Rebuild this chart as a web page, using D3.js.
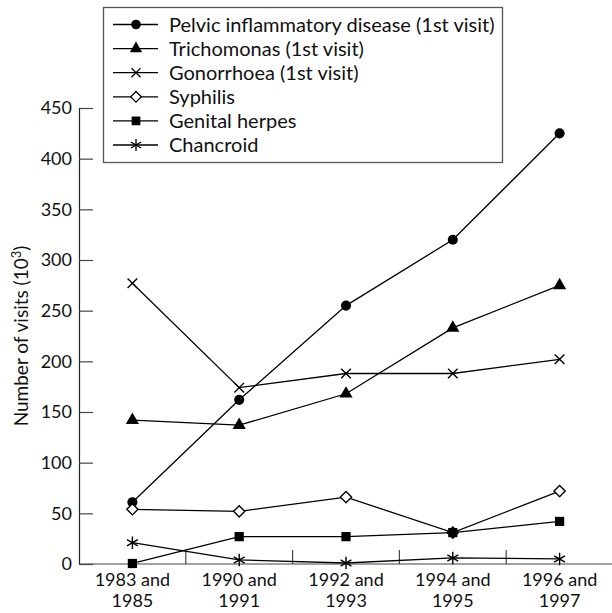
<!DOCTYPE html>
<html>
<head>
<meta charset="utf-8">
<script src="https://cdn.jsdelivr.net/npm/d3@7"></script>
<style>
  body { margin: 0; background: #fff; }
  svg text { font-family: Lato, "Noto Sans", sans-serif; fill: #111; }
</style>
</head>
<body>
<script>
// categories (two-line labels)
const periods = ["1983 and|1985", "1990 and|1991", "1992 and|1993", "1994 and|1995", "1996 and|1997"];
const yTicks = [0, 50, 100, 150, 200, 250, 300, 350, 400, 450];

// series values (thousands of visits)
const pid = [61, 162, 255, 320, 425];
const trichomonas = [142, 137, 168, 233, 275];
const gonorrhoea = [277, 174, 188, 188, 202];
const syphilis = [54, 52, 66, 31, 72];
const herpes = [0.5, 27, 27, 31, 42];
const chancroid = [21, 4, 1, 6, 5];

const seriesNames = [
  "Pelvic inflammatory disease (1st visit)",
  "Trichomonas (1st visit)",
  "Gonorrhoea (1st visit)",
  "Syphilis",
  "Genital herpes",
  "Chancroid"
];

const series = [
  { name: seriesNames[0], values: pid, symbol: d3.symbolCircle, size: 80, fill: "#000", stroke: "none" },
  { name: seriesNames[1], values: trichomonas, symbol: d3.symbolTriangle, size: 75, fill: "#000", stroke: "none" },
  { name: seriesNames[2], values: gonorrhoea, symbol: d3.symbolX, size: 62, fill: "none", stroke: "#000" },
  { name: seriesNames[3], values: syphilis, symbol: d3.symbolDiamond2, size: 80, fill: "#fff", stroke: "#000" },
  { name: seriesNames[4], values: herpes, symbol: d3.symbolSquare, size: 85, fill: "#000", stroke: "none" },
  { name: seriesNames[5], values: chancroid, symbol: d3.symbolAsterisk, size: 110, fill: "none", stroke: "#000" }
];

const width = 612, height = 613;
const svg = d3.select("body").append("svg")
  .attr("width", width)
  .attr("height", height);

let x = d3.scaleBand()
  .domain(periods)
  .range([79, 613]);

let y = d3.scaleLinear()
  .domain([0, 450])
  .range([564, 108]);

// y axis (ticks pointing inward)
let yAxis = svg.append("g")
  .attr("transform", `translate(79,0)`)
  .call(d3.axisRight(y).tickValues(yTicks).tickSize(14).tickFormat(d3.format("d")));
yAxis.select(".domain").attr("stroke", "#222").attr("stroke-width", 1.2);
yAxis.selectAll(".tick line").attr("stroke", "#444").attr("stroke-width", 1.2);
yAxis.selectAll(".tick text")
  .attr("x", -7)
  .attr("text-anchor", "end")
  .attr("font-size", 18);

// x axis: line plus upward ticks between categories
let xAxis = svg.append("g")
  .attr("transform", `translate(0,564)`);
xAxis.append("line")
  .attr("x1", 79).attr("x2", width)
  .attr("stroke", "#444").attr("stroke-width", 1.2);
xAxis.selectAll(".sep")
  .data(periods.slice(1))
  .enter().append("line")
  .attr("class", "sep")
  .attr("x1", d => x(d)).attr("x2", d => x(d))
  .attr("y1", 0).attr("y2", -14)
  .attr("stroke", "#444").attr("stroke-width", 1.2);
let xLabels = xAxis.selectAll(".lab")
  .data(periods)
  .enter().append("text")
  .attr("class", "lab")
  .attr("text-anchor", "middle")
  .attr("font-size", 18)
  .attr("transform", d => `translate(${x(d) + x.bandwidth() / 2},0)`);
xLabels.append("tspan").attr("x", 0).attr("y", 22).text(d => d.split("|")[0]);
xLabels.append("tspan").attr("x", 0).attr("y", 43).text(d => d.split("|")[1]);

// y axis title
let title = svg.append("text")
  .attr("transform", `translate(28,${(564 + 108) / 2}) rotate(-90)`)
  .attr("text-anchor", "middle")
  .attr("font-size", 19);
title.append("tspan").text("Number of visits (10");
title.append("tspan").attr("dy", -7).attr("font-size", 13).text("3");
title.append("tspan").attr("dy", 7).text(")");

// lines
let line = d3.line()
  .x((d, i) => x(periods[i]) + x.bandwidth() / 2)
  .y(d => y(d));

svg.append("g")
  .selectAll("path")
  .data(series)
  .enter().append("path")
  .attr("d", d => line(d.values))
  .attr("fill", "none")
  .attr("stroke", "#000")
  .attr("stroke-width", 1.3);

// markers
series.forEach(s => {
  svg.append("g")
    .selectAll("path")
    .data(s.values)
    .enter().append("path")
    .attr("transform", (d, i) => `translate(${x(periods[i]) + x.bandwidth() / 2},${y(d)})`)
    .attr("d", d3.symbol().type(s.symbol).size(s.size))
    .attr("fill", s.fill)
    .attr("stroke", s.stroke)
    .attr("stroke-width", 1.4);
});

// legend
let legend = svg.append("g");
legend.append("rect")
  .attr("x", 103.5).attr("y", 7.5)
  .attr("width", 399).attr("height", 155)
  .attr("fill", "#fff")
  .attr("stroke", "#555")
  .attr("stroke-width", 1.3);

let items = legend.selectAll(".item")
  .data(series)
  .enter().append("g")
  .attr("class", "item")
  .attr("transform", (d, i) => `translate(0,${24.5 + i * 24.1})`);
items.append("line")
  .attr("x1", 113).attr("x2", 158)
  .attr("stroke", "#000").attr("stroke-width", 1.3);
items.append("path")
  .attr("transform", "translate(136,0)")
  .attr("d", d => d3.symbol().type(d.symbol).size(d.size * 0.9)())
  .attr("fill", d => d.fill)
  .attr("stroke", d => d.stroke)
  .attr("stroke-width", 1.3);
items.append("text")
  .attr("x", 169)
  .attr("dy", "0.35em")
  .attr("font-size", 20)
  .text(d => d.name);
</script>
</body>
</html>
